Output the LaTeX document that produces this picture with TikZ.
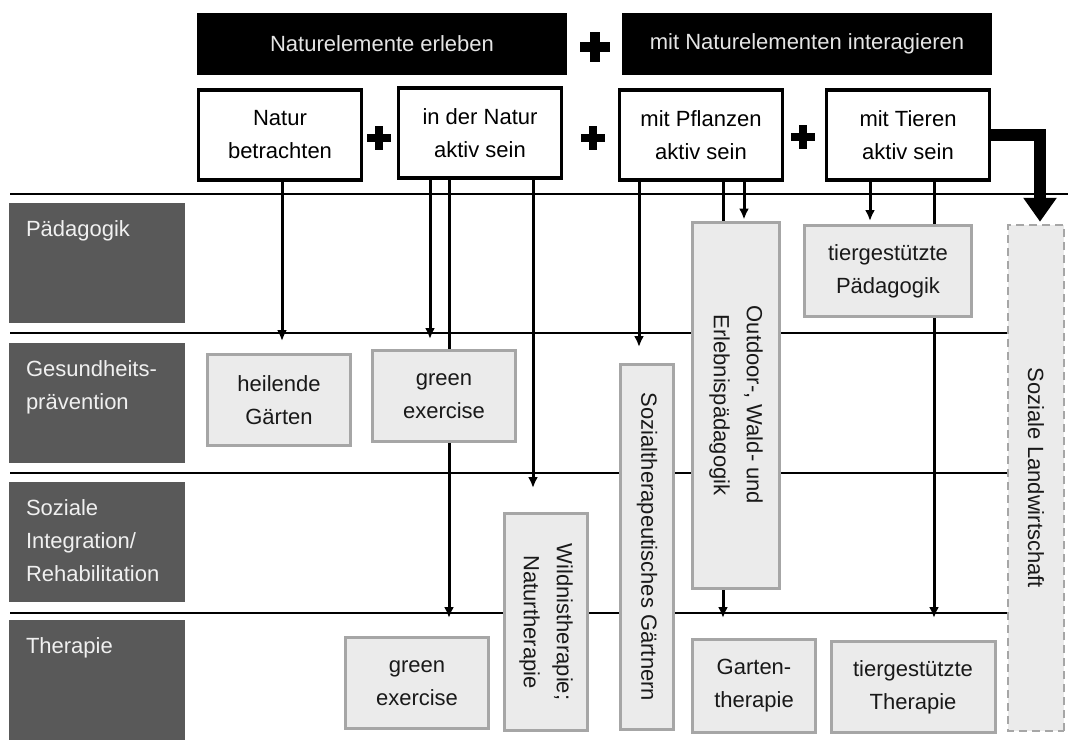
\documentclass[tikz,border=0pt]{standalone}
\usepackage{fontspec}
\setmainfont{Liberation Sans}
\usetikzlibrary{arrows.meta,backgrounds}
\definecolor{fieldgray}{HTML}{595959}
\definecolor{boxgray}{HTML}{EBEBEB}
\definecolor{rimgray}{HTML}{A6A6A6}

\begin{document}
\begin{tikzpicture}[x=1pt, y=-1pt,
font=\fontsize{22}{33}\selectfont,
head/.style={fill=black, text=white!90!black, minimum width=370pt, minimum height=62pt},
act/.style={draw, line width=3.5pt, fill=white, align=center, minimum width=163pt, minimum height=90pt},
field/.style={fill=fieldgray, minimum width=176pt, minimum height=120pt},
fieldtext/.style={anchor=north west, inner sep=0pt, xshift=17pt, yshift=-18pt, text=white!94!black, align=left},
offer/.style={draw=rimgray, line width=3pt, fill=boxgray, align=center, text=black!90},
upright/.style={offer, rotate=-90},
arr/.style={line width=3pt, -{Latex[length=11pt,width=10pt]}},
bigarr/.style={line width=12pt, -{Triangle[length=24pt,width=32pt]}},
rule/.style={line width=1.6pt}]

\useasboundingbox (0,0) rectangle (1068,744);

\node[head] (erleben) at (382,44) {Naturelemente erleben};
\node[head] (interagieren) at (807,44) {mit Naturelementen interagieren};

\node[act] (betrachten) at (280,135) {Natur\\betrachten};
\node[act] (aktiv) at (480,133) {in der Natur\\aktiv sein};
\node[act] (pflanzen) at (701,135) {mit Pflanzen\\aktiv sein};
\node[act] (tiere) at (908,135) {mit Tieren\\aktiv sein};

\foreach \px/\py/\ps/\pw in {595/47/15/10, 379/138/12/8, 593/138/12/8, 803/137/12/8}
  \draw[line width=\pw pt] (\px-\ps,\py) -- (\px+\ps,\py) (\px,\py-\ps) -- (\px,\py+\ps);

\node[field, label={[fieldtext]north west:Pädagogik}] (paed) at (97,263) {};
\node[field, label={[fieldtext]north west:Gesundheits-\\prävention}] (praev) at (97,403) {};
\node[field, label={[fieldtext]north west:Soziale\\Integration/\\Rehabilitation}] (integ) at (97,542) {};
\node[field, label={[fieldtext]north west:Therapie}] (therapie) at (97,680) {};

\node[offer, minimum width=143pt, minimum height=91pt] (heilend) at (279,400) {heilende\\Gärten};
\node[offer, minimum width=143pt, minimum height=91pt] (green) at (444,396) {green\\exercise};
\node[offer, minimum width=143pt, minimum height=91pt] (greenther) at (417,683) {green\\exercise};
\node[upright, minimum width=217pt, minimum height=83pt] (wildnis) at (546,622) {Wildnistherapie;\\Naturtherapie};
\node[upright, minimum width=365pt, minimum height=53pt] (gaertnern) at (647,547) {Sozialtherapeutisches Gärtnern};
\node[upright, minimum width=366pt, minimum height=87pt] (outdoor) at (736,405) {Outdoor-, Wald- und\\Erlebnispädagogik};
\node[offer, minimum width=167pt, minimum height=91pt] (tierpaed) at (888,271) {tiergestützte\\Pädagogik};
\node[offer, minimum width=123pt, minimum height=93pt] (garten) at (754,686) {Garten-\\therapie};
\node[offer, minimum width=164pt, minimum height=91pt] (tierther) at (913,687) {tiergestützte\\Therapie};
\node[upright, dashed, dash pattern=on 8pt off 5pt, line width=2.5pt, minimum width=506pt, minimum height=56pt] (landwirt) at (1036,478) {Soziale Landwirtschaft};

\begin{scope}[on background layer]
\draw[rule] (10,194) -- (1068,194);
\foreach \ry in {333,473,613}
  \draw[rule] (10,\ry) -- (1007,\ry);

\draw[arr, shorten >=12pt] ([xshift=2pt]betrachten.south) -- ([xshift=3pt]heilend.north);
\draw[arr, shorten >=10pt] ([xshift=-50pt]aktiv.south) -- ([xshift=-14pt]green.north);
\draw[arr, shorten >=18pt] ([xshift=-31pt]aktiv.south) -- ([xshift=32pt]greenther.north);
\draw[arr, shorten >=24pt] ([xshift=53pt]aktiv.south) -- ([xshift=-13pt]wildnis.west);
\draw[arr, shorten >=16pt] ([xshift=-62pt]pflanzen.south) -- ([xshift=-8pt]gaertnern.west);
\draw[arr, shorten >=20pt] ([xshift=22pt]pflanzen.south) -- ([xshift=-31pt]garten.north);
\draw[arr, shorten >=1pt] ([xshift=43pt]pflanzen.south) -- ([xshift=8pt]outdoor.west);
\draw[arr, shorten >=3pt] ([xshift=-38pt]tiere.south) -- ([xshift=-18pt]tierpaed.north);
\draw[arr, shorten >=22pt] ([xshift=26pt]tiere.south) -- ([xshift=21pt]tierther.north);
\draw[bigarr, shorten >=2pt] (tiere.east) -| ([xshift=4pt]landwirt.west);
\end{scope}

\end{tikzpicture}
\end{document}
